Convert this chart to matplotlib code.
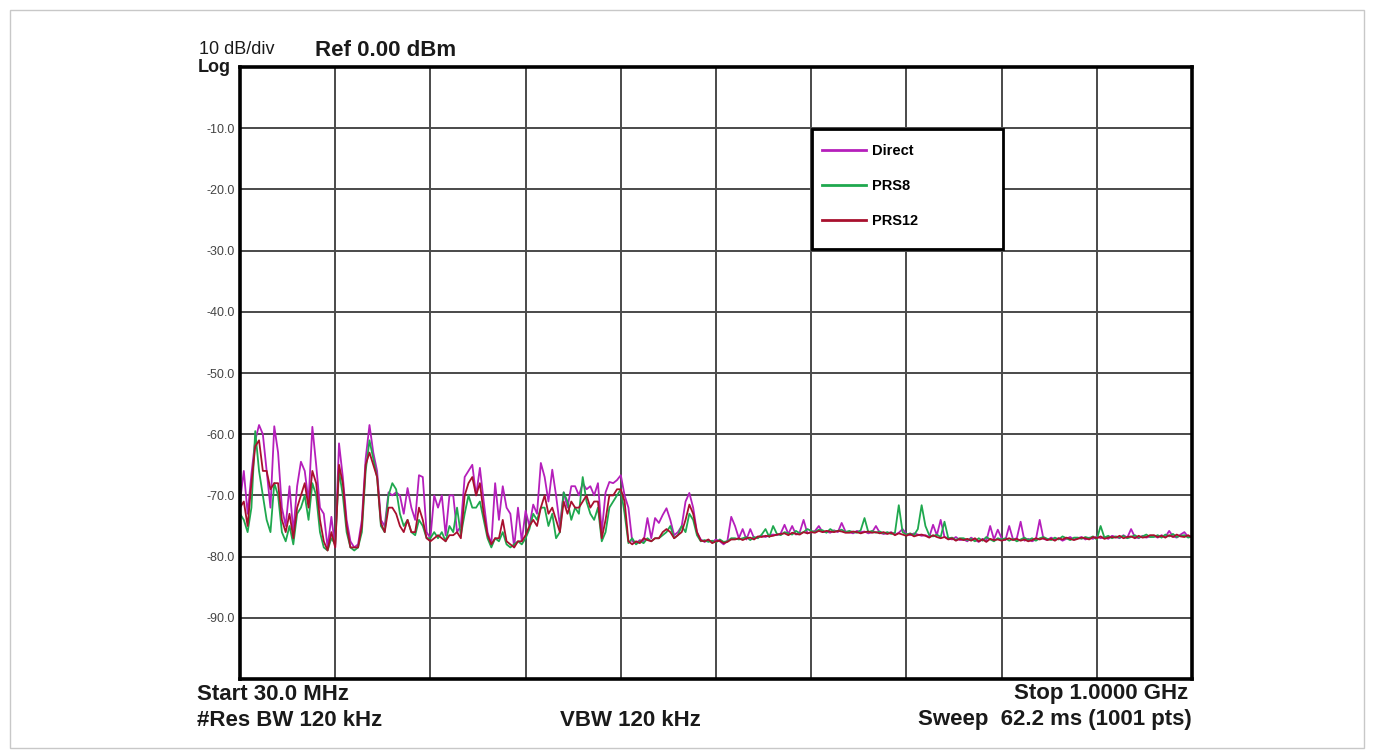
import numpy as np
import matplotlib.pyplot as plt
from matplotlib.patches import Rectangle

plt.rcParams['font.family'] = ['Liberation Sans', 'DejaVu Sans']

# sweep: 30 MHz .. 1 GHz, trace every 4th point
f_start, f_stop = 30.0, 1000.0
n_pts = 251

direct = [
    -71, -66, -73, -66.5, -61, -58.5, -60, -66, -72, -58.7,
    -63, -72, -75, -68.5, -76, -68.5, -64.5, -66, -71, -58.8,
    -65, -72, -73, -78.5, -73.5, -78.5, -61.5, -67, -74, -77.5,
    -78.5, -78, -74, -64, -58.5, -63, -66, -74, -75, -69.5,
    -70, -69.5, -70, -73, -68.8, -72, -74, -66.7, -67, -76,
    -77, -70, -72, -70, -76.5, -70, -70, -76, -75, -67,
    -66, -65, -70, -65.5, -71, -76, -78, -68, -74, -68.5,
    -72, -73, -78.5, -72, -77.5, -72.5, -75, -71.5, -73, -64.7,
    -67, -71, -65.8, -70, -75, -69.5, -72, -68.5, -68.5, -70,
    -68, -69, -68.5, -70, -68, -76, -69.5, -67.8, -68, -67.5,
    -66.7, -70, -72, -77.5, -77.8, -77.3, -77.5, -73.7, -77, -73.7,
    -74.5, -73.2, -72.1, -74, -76.5, -76, -75, -71, -69.6, -72,
    -76, -77.2, -77.6, -77.3, -77.6, -77.2, -77.5, -78, -77.4, -73.5,
    -75, -77, -75.5, -77.2, -75.5, -77, -76.8, -76.6, -76.8, -76.5,
    -76.4, -76.5, -76.2, -74.8, -76.3, -75, -76.4, -76, -74, -76.2,
    -76, -75.8, -75, -76, -75.9, -76.1, -75.7, -76, -74.5, -75.9,
    -76, -76.2, -75.8, -76, -75.9, -76.2, -76, -75, -76.1, -76.3,
    -76.2, -76, -76.4, -76.1, -75.5, -76.3, -76.5, -76.2, -76.4, -76.6,
    -76.5, -76.8, -74.8, -76.5, -74, -76.8, -77, -77.2, -76.8, -77.3,
    -77.2, -77.5, -76.9, -77.3, -77.6, -77.1, -77.4, -75, -77.2, -75.6,
    -77, -77.3, -75, -77.2, -77, -74.3, -77.4, -77.1, -77.5, -77.2,
    -74, -77.1, -77.3, -76.9, -77.2, -77, -77.4, -77.1, -76.8, -77.2,
    -77, -76.8, -77.2, -76.9, -77.1, -76.7, -77, -76.8, -77.1, -76.6,
    -76.8, -77, -76.5, -76.9, -75.5, -76.8, -77, -76.6, -76.9, -76.7,
    -76.6, -76.9, -76.5, -76.8, -75.8, -76.7, -76.9, -76.4, -76, -76.8, -76.6,
]

prs8 = [
    -73, -74, -76, -72, -59.5, -66, -70, -74, -76, -68,
    -70, -76, -77.5, -75, -78, -73, -72, -70, -74, -68,
    -70, -76, -78.5, -79, -77, -78, -66, -70, -76, -78.5,
    -79, -78.5, -76, -66, -61, -64, -67, -75, -76, -70,
    -68, -69, -73, -75, -74, -76, -76.5, -74, -75, -77,
    -77, -76, -77, -76, -77.5, -75, -76, -72, -76.5, -73,
    -70, -72, -72, -71, -74, -77, -78.5, -77, -77.5, -76,
    -78, -78.5, -78, -77.5, -78, -77, -75.5, -73, -74, -72,
    -72, -75, -73, -77, -76, -69.5, -71, -74, -72, -73,
    -67, -71, -73, -74, -72, -77.5, -76, -72, -71, -70,
    -69, -73, -77.8, -77, -78, -77.5, -77.8, -77, -77.5, -77,
    -77, -76.5, -76, -75, -77, -76.5, -75, -76, -73, -74,
    -76.5, -77.5, -77.3, -77.6, -77.4, -77.7, -77.2, -77.6, -77.5, -77,
    -77, -77.2, -77, -76.8, -77.3, -76.8, -77, -76.4, -75.5, -76.8,
    -75, -76.3, -76.5, -76, -76.2, -76.4, -75.8, -76.2, -76, -75.5,
    -75.8, -76, -75.6, -75.7, -76.1, -75.5, -75.9, -75.8, -75.6, -76,
    -75.8, -76, -76.1, -75.7, -73.7, -76, -75.8, -76.1, -75.9, -76.2,
    -76, -76.3, -76.1, -71.6, -76, -76.4, -76.2, -76.5, -75.5, -71.6,
    -75, -76.5, -76.7, -76.4, -76.8, -74.3, -77, -76.9, -77.3, -77,
    -77, -77.3, -77.1, -77.5, -77, -77.4, -76.8, -77.2, -77.5, -77,
    -77.2, -77, -77.4, -77.1, -77.5, -77.2, -76.9, -77.3, -77, -77.4,
    -77, -76.8, -77.1, -77.3, -76.9, -77.2, -76.7, -77, -77.3, -76.9,
    -76.9, -77.1, -76.8, -77, -76.7, -77.2, -75, -76.9, -76.6, -77,
    -76.7, -76.9, -76.6, -77, -76.8, -76.5, -76.9, -76.7, -76.4, -76.8,
    -76.8, -76.5, -76.9, -76.4, -76.7, -76.3, -76.8, -76.6, -76.5, -76.9, -76.7,
]

prs12 = [
    -72, -71, -75, -68, -62, -61, -66, -66, -69, -68,
    -68, -74, -76, -73, -77, -72, -70, -68, -72, -66,
    -68, -74, -77.5, -79, -76, -78.5, -65, -68, -75, -78.5,
    -78.5, -78.5, -75, -65, -63, -65, -67, -74.5, -76, -72,
    -72, -73, -75, -76, -74, -76, -76, -72, -74, -77,
    -77.5, -77, -76.5, -77, -77.5, -76.5, -76.5, -76, -77, -70,
    -68, -67, -70, -68, -73, -76.5, -78, -77, -77, -74,
    -77.5, -78, -78.5, -77.5, -77.5, -76.5, -75, -74, -75, -72,
    -70, -73, -72, -74, -76, -71, -73, -71, -72, -72,
    -71, -70, -72, -71, -71, -77, -74, -70, -70, -69,
    -69, -71, -77.5, -78, -77.5, -77.8, -77, -77.3, -77.5, -77,
    -77, -76, -75.5, -76, -77, -76.5, -76, -74, -71.5, -73,
    -76, -77.4, -77.5, -77.2, -77.8, -77.5, -77.4, -77.8, -77.6, -77.2,
    -77.2, -77, -77.3, -77, -76.9, -77.2, -76.7, -76.8, -76.6, -76.7,
    -76.6, -76.4, -76.3, -76.2, -76.5, -76.1, -76.3, -76.4, -76, -76.2,
    -76, -76.1, -75.8, -76, -75.8, -75.9, -76, -75.8, -75.9, -76.1,
    -76.1, -75.9, -76, -76.2, -76, -75.9, -76.1, -76, -76.2, -76,
    -76.3, -76.1, -76.5, -76.2, -76.4, -76.6, -76.3, -76.7, -76.5, -76.4,
    -76.6, -76.9, -76.5, -76.8, -77, -76.8, -77.2, -77, -77.4, -77.1,
    -77.3, -77.1, -77.4, -77, -77.5, -77.2, -77.6, -77.1, -77.3, -77.2,
    -77.4, -77.2, -77, -77.3, -77.1, -77.4, -77.2, -77.5, -77.3, -77,
    -77.2, -77, -77.3, -77.1, -77.4, -77, -77.2, -76.9, -77.1, -77.3,
    -77.1, -76.9, -77, -77.2, -76.8, -77, -76.7, -77.1, -76.9, -76.8,
    -76.9, -76.6, -77, -76.8, -76.7, -77, -76.6, -76.9, -76.8, -76.5,
    -76.5, -76.8, -76.6, -76.9, -76.5, -76.8, -76.4, -76.7, -76.8, -76.5, -76.9,
]

labels = ['Direct', 'PRS8', 'PRS12']
colors = ['#b51fbb', '#1fa84e', '#a8102e']

ref_level = 0.0
y_ticks = np.arange(-100, 1, 10)
y_ticklabels = ['' if v in (-100, 0) else f'{v:.1f}' for v in y_ticks]

freq = np.linspace(f_start, f_stop, n_pts)

W, H = 1373, 756
fig = plt.figure(figsize=(W / 100, H / 100), dpi=100)
ax = fig.add_axes([240 / W, 1 - 679 / H, 952 / W, 612 / H])

for trace, lab, col in zip([direct, prs8, prs12], labels, colors):
    ax.plot(freq, trace, color=col, lw=1.3, label=lab)

ax.set_xlim(f_start, f_stop)
ax.set_ylim(-100, ref_level)
ax.set_xticks(np.linspace(f_start, f_stop, 11))
ax.set_xticklabels([])
ax.set_yticks(y_ticks)
ax.set_yticklabels(y_ticklabels, fontsize=9, color='#444444')
ax.tick_params(length=0, pad=4)
ax.grid(True, color='#4a4a4a', lw=1.4)
for s in ax.spines.values():
    s.set_linewidth(2.6)
    s.set_color('black')

# legend box drawn separately, entries sit inside it
box = Rectangle((0.6008, 0.7026), 0.2007, 0.1961, transform=ax.transAxes,
                facecolor='white', edgecolor='black', lw=2, zorder=4)
ax.add_patch(box)
leg = ax.legend(loc='upper left', bbox_to_anchor=(0.6113, 0.8735), frameon=False,
                prop={'weight': 'bold', 'size': 10.5}, handlelength=3.0,
                handletextpad=0.45, labelspacing=1.42, borderpad=0, borderaxespad=0)
leg.set_zorder(5)
for h in leg.get_lines():
    h.set_linewidth(2)

# text around the screen
txt = dict(color='#1a1a1a', va='center')
fig.text(199 / W, 1 - 50 / H, '10 dB/div', fontsize=13, **txt)
fig.text(198 / W, 1 - 67 / H, 'Log', fontsize=13, weight='bold', **txt)
fig.text(315 / W, 1 - 51 / H, 'Ref 0.00 dBm', fontsize=16, weight='bold', **txt)
fig.text(197 / W, 1 - 694 / H, 'Start 30.0 MHz', fontsize=16, weight='bold', **txt)
fig.text(197 / W, 1 - 720 / H, '#Res BW 120 kHz', fontsize=16, weight='bold', **txt)
fig.text(560 / W, 1 - 720 / H, 'VBW 120 kHz', fontsize=16, weight='bold', **txt)
fig.text(1188 / W, 1 - 694 / H, 'Stop 1.0000 GHz', fontsize=16, weight='bold', ha='right', **txt)
fig.text(1192 / W, 1 - 720 / H, 'Sweep  62.2 ms (1001 pts)', fontsize=16, weight='bold', ha='right', **txt)

fig.patches.append(Rectangle((10 / W, 8 / H), 1354 / W, 738 / H, transform=fig.transFigure,
                             fill=False, edgecolor='#c8c8c8', lw=1))

fig.savefig('out.png', dpi=100)
